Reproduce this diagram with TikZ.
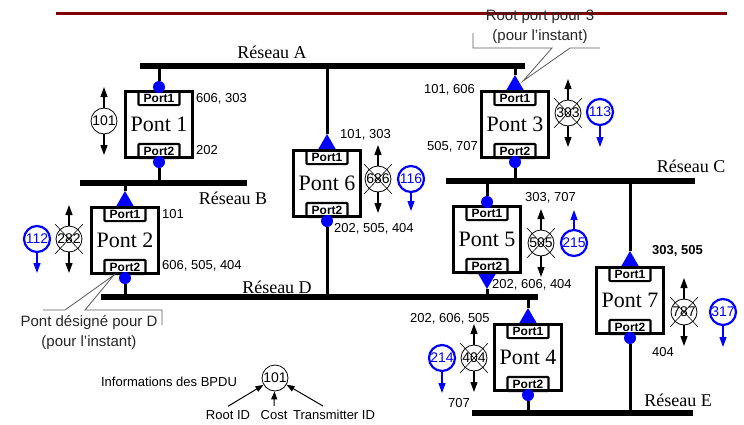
\documentclass[tikz,border=0pt]{standalone}
\usepackage{fontspec}
\setmainfont{Liberation Serif}
\setsansfont{Liberation Sans}
\usepackage{tikz}
\usetikzlibrary{
  arrows.meta,
  positioning,
  shapes.geometric,
  calc
}
\definecolor{darkred}{RGB}{128,0,0}
\definecolor{portblue}{RGB}{0,0,255}
\definecolor{notegray}{RGB}{90,90,90}
\tikzset{
  pontbox/.style={draw,line width=3pt,minimum width=67pt,minimum height=66pt,inner sep=0pt},
  portbox/.style={draw,line width=2.2pt,rounded corners=1pt,minimum width=41pt,minimum height=14pt,inner sep=0pt,font=\sffamily\bfseries\fontsize{12}{12}\selectfont},
  pontlbl/.style={font=\fontsize{22}{22}\selectfont,inner sep=0pt},
  bus/.style={line width=6pt},
  link/.style={line width=3pt},
  portdot/.style={circle,fill=portblue,minimum size=12pt,inner sep=0pt},
  rootport/.style={regular polygon,regular polygon sides=3,fill=portblue,minimum size=20pt,inner sep=0pt,outer sep=0pt},
  netlbl/.style={font=\fontsize{18}{18}\selectfont,inner sep=0pt},
  costlbl/.style={font=\sffamily\fontsize{13}{13}\selectfont,inner sep=0pt},
  bpducirc/.style={circle,draw,fill=white,line width=0.8pt,minimum size=26pt,inner sep=0pt,font=\sffamily\fontsize{14}{14}\selectfont},
  bpdublue/.style={bpducirc,draw=portblue,line width=2.2pt,text=portblue},
  bpduarr/.style={line width=1.2pt,-{Triangle[length=10pt,width=7pt]}},
  legarr/.style={line width=1pt,-{Triangle[length=8pt,width=6pt]}},
  note/.style={font=\sffamily\fontsize{15}{20}\selectfont,align=center,inner sep=0pt,text=black!85},
  callout/.style={draw=notegray,line width=0.8pt},
  legtxt/.style={font=\sffamily\fontsize{13}{13}\selectfont,inner sep=0pt},
}
\newcommand{\pont}[4]{%
  \node[pontbox,anchor=north] (#1) at (#2,#3) {};%
  \node[portbox,anchor=north] (#1a) at (#1.north) {Port1};%
  \node[portbox,anchor=south] (#1b) at (#1.south) {Port2};%
  \node[pontlbl] (#1t) at (#1.center) {Pont #4};%
}
\newcommand{\bpdu}[4]{%
  \node[bpducirc] (#1) at (#2,#3) {#4};%
  \coordinate (#1u) at (#2,#3-34);%
  \coordinate (#1d) at (#2,#3+34);%
  \draw[bpduarr] (#1) -- (#1u);%
  \draw[bpduarr] (#1) -- (#1d);%
}
\newcommand{\bpdux}[4]{%
  \bpdu{#1}{#2}{#3}{#4}%
  \draw[line width=0.6pt] (#2-14,#3-15) -- (#2+14,#3+15) (#2-14,#3+15) -- (#2+14,#3-15);%
}
\newcommand{\bpdub}[5]{%
  \node[bpdublue] (#1) at (#2,#3) {#4};%
  \coordinate (#1e) at (#2,#5);%
  \draw[bpduarr,portblue] (#1) -- (#1e);%
}

\begin{document}
\begin{tikzpicture}[x=1pt,y=-1pt]
  \useasboundingbox (0,0) rectangle (744,424);
  \draw[darkred,line width=3pt] (56,13) -- (727,13);

  \coordinate (busA1) at (140,66);  \coordinate (busA2) at (525,66);
  \coordinate (busB1) at (80,183);  \coordinate (busB2) at (247,183);
  \coordinate (busC1) at (446,181); \coordinate (busC2) at (695,181);
  \coordinate (busD1) at (101,297); \coordinate (busD2) at (538,297);
  \coordinate (busE1) at (472,413); \coordinate (busE2) at (693,413);
  \draw[bus] (busA1) -- (busA2);
  \draw[bus] (busB1) -- (busB2);
  \draw[bus] (busC1) -- (busC2);
  \draw[bus] (busD1) -- (busD2);
  \draw[bus] (busE1) -- (busE2);
  \node[netlbl] (netA) at (272,52) {Réseau A};
  \node[netlbl] (netB) at (233,198) {Réseau B};
  \node[netlbl] (netC) at (691,166) {Réseau C};
  \node[netlbl] (netD) at (277,287) {Réseau D};
  \node[netlbl] (netE) at (678,400) {Réseau E};

  \pont{p1}{159}{90}{1}
  \pont{p2}{125}{206}{2}
  \pont{p3}{515}{90}{3}
  \pont{p6}{327}{149}{6}
  \pont{p5}{487}{205}{5}
  \pont{p7}{630}{266}{7}
  \pont{p4}{528}{323}{4}

  \node[portdot] (p1m1) at ([yshift=3pt]p1.north) {};
  \node[portdot] (p1m2) at ([yshift=-3pt]p1.south) {};
  \node[rootport,anchor=south] (p2m1) at (p2.north) {};
  \node[portdot] (p2m2) at ([yshift=-3pt]p2.south) {};
  \node[rootport,anchor=south] (p3m1) at (p3.north) {};
  \node[portdot] (p3m2) at ([yshift=-3pt]p3.south) {};
  \node[rootport,anchor=south] (p6m1) at (p6.north) {};
  \node[portdot] (p6m2) at ([yshift=-3pt]p6.south) {};
  \node[portdot] (p5m1) at ([yshift=3pt]p5.north) {};
  \node[rootport,shape border rotate=180,anchor=north] (p5m2) at (p5.south) {};
  \node[rootport,anchor=south] (p7m1) at (p7.north) {};
  \node[portdot] (p7m2) at ([yshift=-3pt]p7.south) {};
  \node[rootport,anchor=south] (p4m1) at (p4.north) {};
  \node[portdot] (p4m2) at ([yshift=-3pt]p4.south) {};

  \draw[link] (p1m1) -- (p1m1 |- busA1);
  \draw[link] (p1m2) -- (p1m2 |- busB1);
  \draw[link] (p2m1) -- (p2m1 |- busB1);
  \draw[link] (p2m2) -- (p2m2 |- busD1);
  \draw[link] (p3m1) -- (p3m1 |- busA1);
  \draw[link] (p3m2) -- (p3m2 |- busC1);
  \draw[link] (p6m1) -- (p6m1 |- busA1);
  \draw[link] (p6m2) -- (p6m2 |- busD1);
  \draw[link] (p5m1) -- (p5m1 |- busC1);
  \draw[link] (p5m2) -- (p5m2 |- busD1);
  \draw[link] (p7m1) -- (p7m1 |- busC1);
  \draw[link] (p7m2) -- (p7m2 |- busE1);
  \draw[link] (p4m1) -- (p4m1 |- busD1);
  \draw[link] (p4m2) -- (p4m2 |- busE1);

  \node[costlbl,anchor=west] (p1c1) at (196,99) {606, 303};
  \node[costlbl,anchor=west] (p1c2) at (196,150) {202};
  \node[costlbl,anchor=west] (p2c1) at (162,214) {101};
  \node[costlbl,anchor=west] (p2c2) at (162,266) {606, 505, 404};
  \node[costlbl,anchor=east] (p3c1) at (475,90) {101, 606};
  \node[costlbl,anchor=east] (p3c2) at (478,147) {505, 707};
  \node[costlbl,anchor=west] (p6c1) at (340,135) {101, 303};
  \node[costlbl,anchor=west] (p6c2) at (334,229) {202, 505, 404};
  \node[costlbl,anchor=west] (p5c1) at (525,198) {303, 707};
  \node[costlbl,anchor=west] (p5c2) at (492,285) {202, 606, 404};
  \node[costlbl,anchor=west,font=\sffamily\bfseries\fontsize{13}{13}\selectfont] (p7c1) at (652,251) {303, 505};
  \node[costlbl,anchor=west] (p7c2) at (652,352) {404};
  \node[costlbl,anchor=west] (p4c1) at (410,319) {202, 606, 505};
  \node[costlbl,anchor=west] (p4c2) at (448,403) {707};

  \bpdu{b1}{104}{121}{101}
  \bpdux{b6}{378}{179}{686}
  \bpdub{b6n}{411}{179}{116}{211}
  \bpdux{b3}{568}{113}{303}
  \bpdub{b3n}{600}{112}{113}{147}
  \bpdux{b2}{69}{239}{282}
  \bpdub{b2n}{37}{239}{112}{273}
  \bpdux{b5}{541}{243}{505}
  \bpdub{b5n}{574}{243}{215}{210}
  \bpdux{b4}{474}{358}{404}
  \bpdub{b4n}{442}{358}{214}{393}
  \bpdux{b7}{684}{312}{787}
  \bpdub{b7n}{723}{312}{317}{347}

  \node[note] (rootnote) at (540,27) {Root port pour 3\\(pour l'instant)};
  \coordinate (rootptr) at (523,81);
  \draw[callout] (473,33) -- (473,48) -- (552,48) -- (rootptr) -- (570,48) -- (600,48);
  \node[note] (desnote) at (89,333) {Pont désigné pour D\\(pour l'instant)};
  \coordinate (desptr) at (114,275);
  \draw[callout] (43,310) -- (65,310) -- (desptr) -- (85,310) -- (162,310) -- (162,325);

  \node[bpducirc] (leg) at (275,378) {101};
  \node[legtxt] (leginfo) at (169,382) {Informations des BPDU};
  \node[legtxt] (legroot) at (228,415) {Root ID};
  \node[legtxt] (legcost) at (274,415) {Cost};
  \node[legtxt] (legtx) at (334,415) {Transmitter ID};
  \draw[legarr] ([yshift=4pt]legroot.north) -- (leg);
  \draw[legarr] ([yshift=4pt]legcost.north) -- (leg);
  \draw[legarr] ([xshift=-11pt,yshift=4pt]legtx.north) -- (leg);
\end{tikzpicture}
\end{document}
